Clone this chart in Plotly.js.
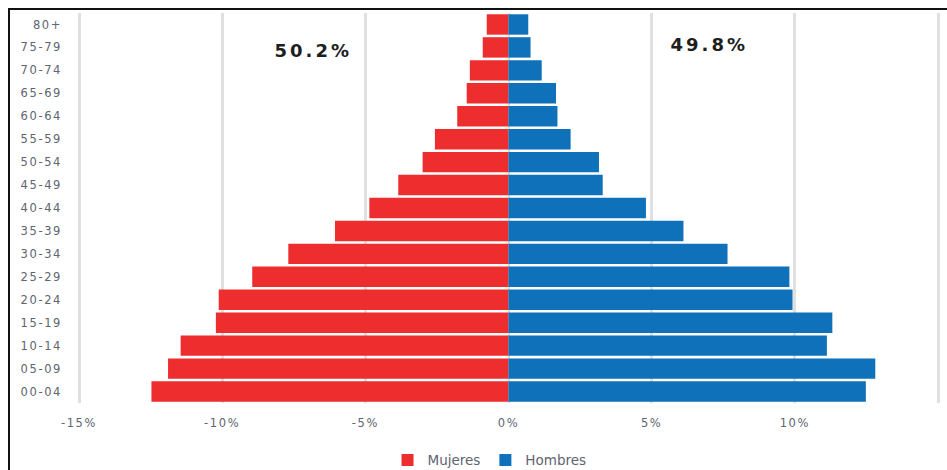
<!DOCTYPE html>
<html>
<head>
<meta charset="utf-8">
<script src="https://cdn.plot.ly/plotly-3.0.1.min.js"></script>
<style>
  html, body { margin: 0; padding: 0; background: #ffffff; }
  #wrap { position: relative; width: 947px; height: 470px; overflow: hidden; }
  #chart { position: absolute; left: 0; top: 0; width: 947px; height: 470px; }
  #frame { position: absolute; left: 8px; top: 8px; width: 1000px; height: 500px;
           border-left: 2px solid #111; border-top: 2px solid #111; pointer-events: none; }
  /* wide, airy lettering for axis labels and totals */
  #chart .xtick text, #chart .ytick text { letter-spacing: 1.6px; }
  #chart .annotation-text { letter-spacing: 3px; }
</style>
</head>
<body>
<div id="wrap">
  <div id="chart"></div>
  <div id="frame"></div>
</div>
<script>
// Grupos quinquenales de edad (de menor a mayor)
const grupos = ['00-04','05-09','10-14','15-19','20-24','25-29','30-34','35-39',
                '40-44','45-49','50-54','55-59','60-64','65-69','70-74','75-79','80+'];

// Porcentaje de cada grupo dentro de su sexo
const mujeres = [12.47, 11.89, 11.45, 10.22, 10.12, 8.95, 7.69, 6.06,
                 4.86, 3.85, 3.00, 2.57, 1.79, 1.46, 1.35, 0.90, 0.76];
const hombres = [12.48, 12.81, 11.12, 11.31, 9.92, 9.81, 7.65, 6.11,
                 4.80, 3.29, 3.16, 2.17, 1.71, 1.66, 1.16, 0.77, 0.69];

// Totales por sexo
const totalMujeres = '50.2%';
const totalHombres = '49.8%';

// Marcas del eje horizontal
const ticksX = [-15, -10, -5, 0, 5, 10, 15];
const ticksXTexto = ['-15%', '-10%', '-5%', '0%', '5%', '10%', '15%'];

const gris = '#5e6470';
const fuente = 'DejaVu Sans, sans-serif';

const trazas = [
  {
    type: 'bar', orientation: 'h', name: 'Mujeres',
    y: grupos, x: mujeres.map(v => -v),
    marker: { color: '#ee2d2e' },
    hoverinfo: 'skip'
  },
  {
    type: 'bar', orientation: 'h', name: 'Hombres',
    y: grupos, x: hombres,
    marker: { color: '#0f71b9' },
    hoverinfo: 'skip'
  }
];

const layout = {
  width: 947, height: 470,
  margin: { l: 77, r: 7, t: 13, b: 67 },
  paper_bgcolor: '#ffffff', plot_bgcolor: '#ffffff',
  barmode: 'relative', bargap: 0.11,
  font: { family: fuente, size: 11, color: gris },
  xaxis: {
    range: [-15.07, 15.07], tickvals: ticksX, ticktext: ticksXTexto,
    showgrid: true, gridcolor: '#e0e0e0', gridwidth: 3,
    zeroline: true, zerolinecolor: '#dcdcdc', zerolinewidth: 2,
    showline: false, ticks: '', ticklabelstandoff: 11,
    tickfont: { family: fuente, size: 11.5, color: gris }, fixedrange: true
  },
  yaxis: {
    type: 'category', categoryorder: 'array', categoryarray: grupos,
    showgrid: false, zeroline: false, showline: false,
    ticks: '', ticklabelstandoff: 14,
    tickfont: { family: fuente, size: 11.5, color: gris }, fixedrange: true
  },
  legend: {
    orientation: 'h', xref: 'paper', x: 0.478, xanchor: 'center',
    yref: 'container', y: 0.021, yanchor: 'middle',
    font: { family: fuente, size: 13.5, color: gris }, itemwidth: 30, traceorder: 'normal'
  },
  annotations: [
    { text: '<b>' + totalMujeres + '</b>', xref: 'x', yref: 'paper',
      x: -6.83, y: 0.904, xanchor: 'center', yanchor: 'middle', showarrow: false,
      font: { family: fuente, size: 18, color: '#1e1e1e' } },
    { text: '<b>' + totalHombres + '</b>', xref: 'x', yref: 'paper',
      x: 7.0, y: 0.918, xanchor: 'center', yanchor: 'middle', showarrow: false,
      font: { family: fuente, size: 18, color: '#1e1e1e' } }
  ],
  showlegend: true
};

Plotly.newPlot('chart', trazas, layout, { displayModeBar: false, staticPlot: true });
</script>
</body>
</html>
